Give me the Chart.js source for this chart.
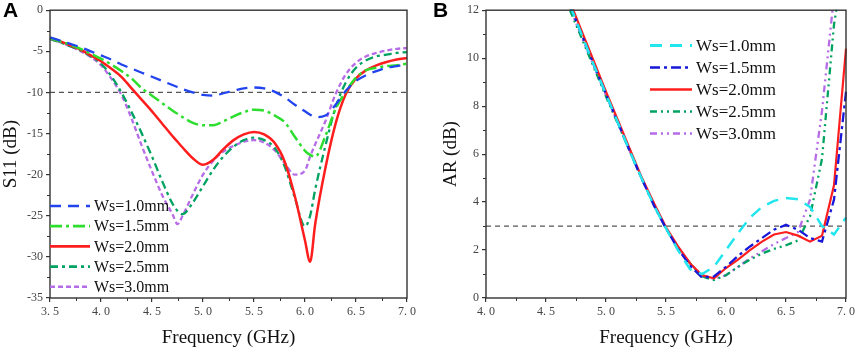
<!DOCTYPE html>
<html>
<head>
<meta charset="utf-8">
<script src="https://cdn.jsdelivr.net/npm/chart.js@4.4.1/dist/chart.umd.min.js"></script>
<style>
  html, body { margin: 0; padding: 0; background: #fff; }
  #wrap { position: relative; width: 858px; height: 352px; overflow: hidden; }
  canvas { position: absolute; top: 0; }
</style>
</head>
<body>
<div id="wrap">
  <canvas id="chartA" width="430" height="352" style="left:0"></canvas>
  <canvas id="chartB" width="428" height="352" style="left:430px"></canvas>
</div>
<script>
// ---- panel A : S11 ----
const xRangeA = [3.5, 7.0];
const freqA = [3.5, 3.6, 3.7, 3.8, 3.9, 4.0, 4.1, 4.2, 4.3, 4.4, 4.5, 4.6, 4.7, 4.75, 4.8, 4.9,
  5.0, 5.1, 5.2, 5.3, 5.4, 5.5, 5.6, 5.7, 5.8, 5.9, 6.0, 6.05, 6.1, 6.2, 6.3, 6.4, 6.5, 6.6, 6.7, 6.8, 6.9, 7.0];
const s11_10 = [-3.3, -3.7, -4.1, -4.5, -5.0, -5.5, -6.0, -6.6, -7.1, -7.6, -8.1, -8.6, -9.1, -9.35, -9.6, -10.0,
  -10.3, -10.4, -10.1, -9.8, -9.5, -9.4, -9.5, -9.9, -10.6, -11.5, -12.3, -12.7, -13.0, -12.8, -11.5, -9.8, -8.6, -7.9, -7.4, -7.0, -6.8, -6.5];
const s11_15 = [-3.4, -3.8, -4.2, -4.7, -5.3, -5.9, -6.6, -7.4, -8.3, -9.5, -10.4, -11.3, -12.2, -12.6, -13.0, -13.7,
  -14.0, -14.0, -13.5, -12.9, -12.4, -12.1, -12.2, -12.8, -13.6, -15.4, -17.1, -17.6, -17.8, -15.3, -12.0, -9.9, -8.2, -7.3, -7.0, -6.8, -6.7, -6.5];
const s11_20 = [-3.4, -3.8, -4.3, -4.8, -5.5, -6.2, -7.1, -8.1, -9.5, -10.9, -12.3, -13.8, -15.3, -16.0, -16.7, -18.0,
  -18.8, -18.2, -16.9, -15.8, -15.1, -14.8, -15.1, -16.1, -18.4, -22.6, -28.0, -30.6, -26.0, -19.2, -13.8, -10.2, -8.3, -7.3, -6.7, -6.3, -6.0, -5.8];
const s11_25 = [-3.5, -3.9, -4.4, -4.9, -5.6, -6.5, -8.0, -10.0, -12.4, -15.0, -17.8, -20.8, -23.5, -24.4, -24.8, -23.4,
  -21.4, -19.4, -17.8, -16.6, -15.8, -15.5, -15.8, -16.7, -19.0, -22.8, -26.3, -25.0, -21.8, -16.5, -11.8, -8.8, -7.0, -6.1, -5.6, -5.4, -5.2, -5.1];
const s11_30 = [-3.5, -3.9, -4.4, -5.0, -5.7, -6.7, -8.3, -10.3, -13.2, -16.5, -19.6, -22.5, -24.8, -26.0, -25.0, -22.4,
  -20.0, -18.3, -17.2, -16.5, -16.0, -15.8, -16.1, -17.0, -18.6, -20.0, -19.5, -17.8, -16.3, -13.5, -10.2, -7.8, -6.4, -5.6, -5.2, -4.9, -4.7, -4.6];
const refA = -10;

// ---- panel B : AR ----
const xRangeB = [4.0, 7.0];
const freqB = [4.7, 4.8, 4.9, 5.0, 5.1, 5.2, 5.3, 5.4, 5.5, 5.6, 5.7, 5.8, 5.9,
  6.0, 6.1, 6.2, 6.3, 6.4, 6.5, 6.6, 6.7, 6.8, 6.9, 7.0];
const ar_10 = [12.2, 10.95, 9.7, 8.5, 7.3, 6.1, 4.95, 3.85, 2.9, 2.0, 1.2, 1.0, 1.3,
  2.0, 2.7, 3.35, 3.8, 4.05, 4.17, 4.12, 3.8, 3.0, 2.65, 3.35];
const ar_15 = [12.2, 10.95, 9.7, 8.5, 7.3, 6.1, 4.95, 3.85, 2.9, 2.05, 1.35, 0.85, 0.9,
  1.3, 1.75, 2.15, 2.5, 2.85, 3.05, 2.85, 2.5, 2.35, 4.1, 8.6];
const ar_20 = [12.35, 11.1, 9.85, 8.6, 7.4, 6.2, 5.0, 3.95, 2.95, 2.15, 1.45, 0.95, 0.82,
  1.25, 1.6, 2.0, 2.35, 2.65, 2.75, 2.6, 2.35, 2.6, 4.7, 10.4];
const ar_25 = [12.0, 10.8, 9.6, 8.4, 7.25, 6.1, 4.95, 3.9, 2.9, 2.1, 1.45, 0.9, 0.75,
  0.95, 1.3, 1.6, 1.85, 2.05, 2.2, 2.4, 3.4, 5.8, 11.4, 14.5];
const ar_30 = [12.1, 10.85, 9.65, 8.45, 7.3, 6.1, 4.95, 3.9, 2.9, 2.1, 1.45, 0.95, 0.8,
  0.95, 1.3, 1.65, 1.95, 2.25, 2.5, 2.75, 4.1, 7.8, 12.6, 15.0];
const refB = 3;

const labels = ['Ws=1.0mm', 'Ws=1.5mm', 'Ws=2.0mm', 'Ws=2.5mm', 'Ws=3.0mm'];

const SERIF = '"Liberation Serif", "DejaVu Serif", serif';

function pts(xs, ys) {
  return xs.map((x, i) => ({ x: x, y: ys[i] }));
}

function series(label, xs, ys, color, dash, width) {
  return {
    label: label,
    data: pts(xs, ys),
    borderColor: color,
    borderDash: dash,
    borderWidth: width,
    pointRadius: 0,
    fill: false,
    clip: 1
  };
}

// dashed threshold line across the whole axis
function refLine(range, y) {
  return {
    label: '_ref',
    data: [{ x: range[0], y: y }, { x: range[1], y: y }],
    borderColor: '#555',
    borderDash: [5, 4],
    borderWidth: 1.2,
    pointRadius: 0,
    tension: 0
  };
}

// frame, minor ticks, legend and panel letter
const decor = {
  id: 'decor',
  afterDatasetsDraw(chart, args, o) {
    const { ctx, chartArea: a, scales } = chart;
    ctx.save();
    ctx.strokeStyle = '#333';
    ctx.lineWidth = 1.4;
    ctx.strokeRect(a.left, a.top, a.right - a.left, a.bottom - a.top);

    ctx.lineWidth = 1;
    for (let v = scales.x.min + o.minorX; v < scales.x.max; v += 2 * o.minorX) {
      const px = Math.round(scales.x.getPixelForValue(v)) + 0.5;
      ctx.beginPath(); ctx.moveTo(px, a.bottom); ctx.lineTo(px, a.bottom + 3); ctx.stroke();
    }
    for (let v = scales.y.min + o.minorY; v < scales.y.max; v += 2 * o.minorY) {
      const py = Math.round(scales.y.getPixelForValue(v)) + 0.5;
      ctx.beginPath(); ctx.moveTo(a.left, py); ctx.lineTo(a.left - 3, py); ctx.stroke();
    }

    // legend
    ctx.font = o.legendFont + 'px ' + SERIF;
    ctx.textBaseline = 'middle';
    ctx.fillStyle = '#111';
    let row = 0;
    chart.data.datasets.forEach(ds => {
      if (ds.label.startsWith('_')) return;
      const y = o.legY + row * o.legDy;
      ctx.strokeStyle = ds.borderColor;
      ctx.lineWidth = ds.borderWidth + 0.3;
      ctx.setLineDash(ds.borderDash);
      ctx.beginPath(); ctx.moveTo(o.legX, y); ctx.lineTo(o.legX + o.legLen, y); ctx.stroke();
      ctx.setLineDash([]);
      ctx.fillText(ds.label, o.legX + o.legLen + 4, y + 1);
      row++;
    });

    ctx.font = 'bold 21px "Liberation Sans", Arial, sans-serif';
    ctx.fillStyle = '#000';
    ctx.textBaseline = 'top';
    ctx.fillText(o.letter, 3, 1);
    ctx.restore();
  }
};

function axisX(range) {
  return {
    type: 'linear', min: range[0], max: range[1],
    ticks: {
      stepSize: 0.5, autoSkip: false, maxRotation: 0, padding: 3,
      color: '#444', font: { family: SERIF, size: 12 },
      callback: v => v.toFixed(1).replace('.', '. ')
    },
    grid: { drawOnChartArea: false, drawTicks: true, tickLength: 4, color: '#333', lineWidth: 1.2 },
    border: { display: false },
    title: { display: true, text: 'Frequency (GHz)', color: '#111', font: { family: SERIF, size: 19 }, padding: { top: 0, bottom: 3 } },
    afterFit: s => { s.height = 54; }
  };
}

function axisY(min, max, step, title, width, titlePad) {
  return {
    type: 'linear', min: min, max: max,
    ticks: { stepSize: step, padding: 3, color: '#444', font: { family: SERIF, size: 12 }, callback: v => String(v) },
    grid: { drawOnChartArea: false, drawTicks: true, tickLength: 4, color: '#333', lineWidth: 1.2 },
    border: { display: false },
    title: { display: true, text: title, color: '#111', font: { family: SERIF, size: 19 }, padding: { top: titlePad, bottom: 0 } },
    afterFit: s => { s.width = width; }
  };
}

new Chart(document.getElementById('chartA'), {
  type: 'line',
  data: {
    datasets: [
      series(labels[0], freqA, s11_10, '#2244ee', [11, 7], 2.3),
      series(labels[1], freqA, s11_15, '#2ede2e', [12, 4, 3, 4], 2.5),
      series(labels[2], freqA, s11_20, '#ff1e1e', [], 2.5),
      series(labels[3], freqA, s11_25, '#00a262', [8, 4, 3, 4], 2.3),
      series(labels[4], freqA, s11_30, '#b66ce6', [5, 3], 2.3),
      refLine(xRangeA, refA)
    ]
  },
  options: {
    responsive: false,
    animation: false,
    events: [],
    layout: { padding: { top: 10, right: 23, left: 0, bottom: 0 } },
    elements: { line: { cubicInterpolationMode: 'monotone' } },
    scales: {
      x: axisX(xRangeA),
      y: axisY(-35, 0, 5, 'S11 (dB)', 50, 0)
    },
    plugins: {
      legend: { display: false },
      tooltip: { enabled: false },
      decor: { minorX: 0.25, minorY: 2.5, legX: 50, legY: 206, legDy: 20.2, legLen: 40, legendFont: 16, letter: 'A' }
    }
  },
  plugins: [decor]
});

new Chart(document.getElementById('chartB'), {
  type: 'line',
  data: {
    datasets: [
      series(labels[0], freqB, ar_10, '#22e6ee', [12, 8], 2.5),
      series(labels[1], freqB, ar_15, '#1818d8', [10, 4, 3, 4], 2.3),
      series(labels[2], freqB, ar_20, '#ff1e1e', [], 2.2),
      series(labels[3], freqB, ar_25, '#00a262', [7, 4, 2, 4, 2, 4], 2.3),
      series(labels[4], freqB, ar_30, '#b66ce6', [7, 4, 2, 4, 2, 4], 2.3),
      refLine(xRangeB, refB)
    ]
  },
  options: {
    responsive: false,
    animation: false,
    events: [],
    layout: { padding: { top: 8, right: 11, left: 0, bottom: 0 } },
    elements: { line: { tension: 0 } },
    scales: {
      x: axisX(xRangeB),
      y: axisY(0, 12, 2, 'AR (dB)', 56, 10)
    },
    plugins: {
      legend: { display: false },
      tooltip: { enabled: false },
      decor: { minorX: 0.25, minorY: 1, legX: 220, legY: 45.5, legDy: 22, legLen: 42, legendFont: 17, letter: 'B' }
    }
  },
  plugins: [decor]
});
</script>
</body>
</html>
